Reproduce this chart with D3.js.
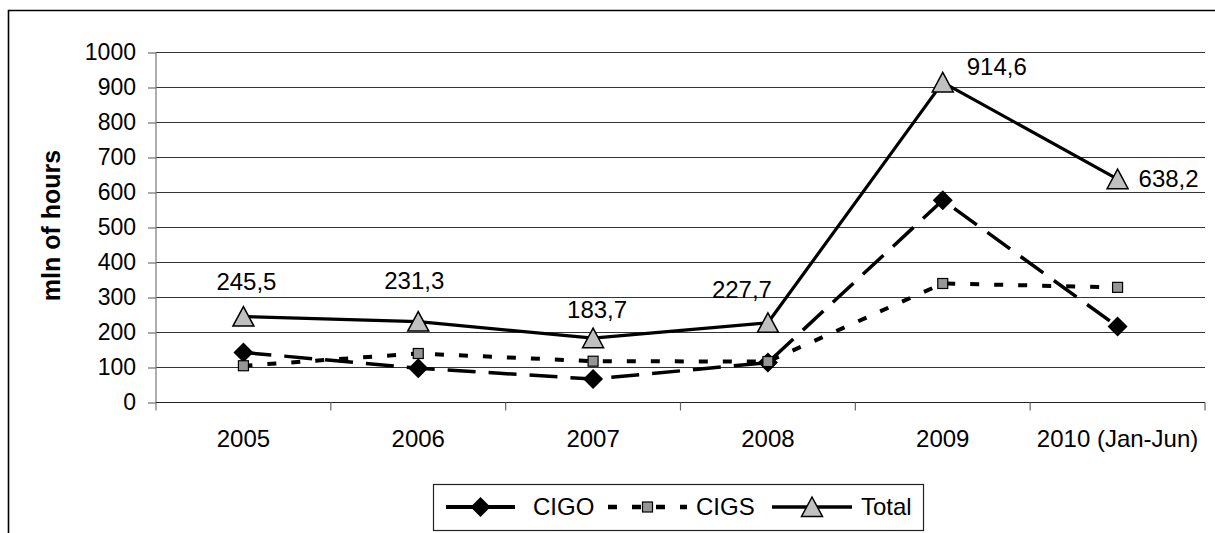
<!DOCTYPE html>
<html>
<head>
<meta charset="utf-8">
<script src="https://cdn.jsdelivr.net/npm/d3@7/dist/d3.min.js"></script>
<style>
  html, body { margin: 0; padding: 0; background: #fff; }
  svg { display: block; font-family: "Liberation Sans", Arial, sans-serif; }
</style>
</head>
<body>
<svg id="chart" width="1215" height="533"></svg>
<script>
// ---- data ----
const categories = ["2005", "2006", "2007", "2008", "2009", "2010 (Jan-Jun)"];
const cigo  = [143, 98, 67, 114, 578, 217];
const cigs  = [105, 140, 118, 117, 340, 329];
const total = [245.5, 231.3, 183.7, 227.7, 914.6, 638.2];
const totalLabels = ["245,5", "231,3", "183,7", "227,7", "914,6", "638,2"];
const yTicks = [0, 100, 200, 300, 400, 500, 600, 700, 800, 900, 1000];
const seriesNames = ["CIGO", "CIGS", "Total"];
const yTitle = "mln of hours";

// ---- layout ----
const W = 1215, H = 533;
const plot = { left: 156, right: 1205, top: 52.5, bottom: 402.5 };
const svg = d3.select("#chart");

// outer border (left + top visible)
svg.append("path")
  .attr("d", `M8.5,${H + 2} L8.5,10.5 L${W + 2},10.5`)
  .attr("fill", "none").attr("stroke", "#000").attr("stroke-width", 1.6);

const x = d3.scaleBand().domain(categories).range([plot.left, plot.right]).padding(0);
const y = d3.scaleLinear().domain([0, 1000]).range([plot.bottom, plot.top]);
const cx = d => x(d) + x.bandwidth() / 2;

// gridlines
svg.append("g").selectAll("line").data(yTicks.filter(t => t > 0)).join("line")
  .attr("x1", plot.left).attr("x2", plot.right)
  .attr("y1", d => y(d)).attr("y2", d => y(d))
  .attr("stroke", "#333").attr("stroke-width", 1);

// y axis
const yAxis = d3.axisLeft(y).tickValues(yTicks).tickSize(8).tickPadding(12).tickFormat(d3.format("d"));
const gy = svg.append("g").attr("transform", `translate(${plot.left},0)`).call(yAxis);
gy.select(".domain").remove();
gy.selectAll(".tick line").attr("stroke", "#555");
gy.selectAll(".tick text").attr("font-size", 23).attr("fill", "#000")
  .attr("font-family", "Liberation Sans, Arial, sans-serif");
svg.append("line").attr("x1", plot.left).attr("x2", plot.left)
  .attr("y1", plot.top).attr("y2", plot.bottom + 8).attr("stroke", "#777").attr("stroke-width", 1.2);

// x axis
const gx = svg.append("g").attr("transform", `translate(0,${plot.bottom})`);
gx.append("line").attr("x1", plot.left).attr("x2", plot.right).attr("y1", 0).attr("y2", 0)
  .attr("stroke", "#222").attr("stroke-width", 1.2);
const boundaries = categories.map(c => x(c)).concat([plot.right]).slice(1);
gx.selectAll("line.tk").data(boundaries).join("line").attr("class", "tk")
  .attr("x1", d => d).attr("x2", d => d).attr("y1", 0).attr("y2", 8)
  .attr("stroke", "#666").attr("stroke-width", 1.2);
gx.selectAll("text").data(categories).join("text")
  .attr("x", d => cx(d)).attr("y", 44).attr("text-anchor", "middle")
  .attr("font-size", 24).attr("fill", "#000").text(d => d);

// y title
svg.append("text")
  .attr("transform", `translate(60,${(plot.top + plot.bottom) / 2 - 2}) rotate(-90)`)
  .attr("text-anchor", "middle").attr("font-size", 25).attr("font-weight", "bold")
  .attr("fill", "#000").text(yTitle);

// series styles
const styles = {
  CIGO:  { stroke: "#000", width: 3.5, dash: "28,13", marker: "diamond" },
  CIGS:  { stroke: "#000", width: 4,   dash: "9,15",  marker: "square" },
  Total: { stroke: "#000", width: 3.2, dash: null,    marker: "triangle" }
};
const seriesData = { CIGO: cigo, CIGS: cigs, Total: total };

function drawMarker(g, type, px, py) {
  if (type === "diamond") {
    g.append("path").attr("d", `M${px},${py - 10} L${px + 10},${py} L${px},${py + 10} L${px - 10},${py} Z`)
      .attr("fill", "#000");
  } else if (type === "square") {
    g.append("rect").attr("x", px - 5).attr("y", py - 5).attr("width", 10).attr("height", 10)
      .attr("fill", "#969696").attr("stroke", "#000").attr("stroke-width", 1.2);
  } else {
    g.append("path").attr("d", `M${px},${py - 10} L${px + 10.5},${py + 9.5} L${px - 10.5},${py + 9.5} Z`)
      .attr("fill", "#c0c0c0").attr("stroke", "#000").attr("stroke-width", 1.5).attr("stroke-linejoin", "miter");
  }
}

const line = d3.line().x((d, i) => cx(categories[i])).y(d => y(d));
seriesNames.forEach(name => {
  const st = styles[name];
  const vals = seriesData[name];
  const g = svg.append("g");
  g.append("path").datum(vals).attr("d", line)
    .attr("fill", "none").attr("stroke", st.stroke).attr("stroke-width", st.width)
    .attr("stroke-dasharray", st.dash).attr("stroke-linejoin", "round");
  vals.forEach((v, i) => drawMarker(g, st.marker, cx(categories[i]), y(v)));
});

// data labels for Total
const labelOffsets = [[3, -35], [-4, -41], [4, -29], [-26, -33], [54, -16], [51, -1]];
svg.append("g").selectAll("text").data(total).join("text")
  .attr("x", (d, i) => cx(categories[i]) + labelOffsets[i][0])
  .attr("y", (d, i) => y(d) + labelOffsets[i][1])
  .attr("dy", "0.35em").attr("text-anchor", "middle")
  .attr("font-size", 24).attr("fill", "#000")
  .text((d, i) => totalLabels[i]);

// legend
const lg = svg.append("g");
lg.append("rect").attr("x", 433.5).attr("y", 484.5).attr("width", 490).attr("height", 46)
  .attr("fill", "#fff").attr("stroke", "#222").attr("stroke-width", 1.2);
const legendItems = [
  { name: "CIGO", x1: 444, x2: 517, tx: 533, offset: -2 },
  { name: "CIGS", x1: 608, x2: 687, tx: 696, offset: 0 },
  { name: "Total", x1: 772, x2: 852, tx: 861, offset: 0 }
];
const ly = 507;
legendItems.forEach(it => {
  const st = styles[it.name];
  lg.append("line").attr("x1", it.x1).attr("x2", it.x2).attr("y1", ly).attr("y2", ly)
    .attr("stroke", st.stroke).attr("stroke-width", st.width + 0.5)
    .attr("stroke-dasharray", st.dash).attr("stroke-dashoffset", it.offset);
  drawMarker(lg, st.marker, (it.x1 + it.x2) / 2, ly);
  lg.append("text").attr("x", it.tx).attr("y", ly).attr("dy", "0.35em")
    .attr("font-size", 24).attr("fill", "#000").text(it.name);
});
</script>
</body>
</html>
